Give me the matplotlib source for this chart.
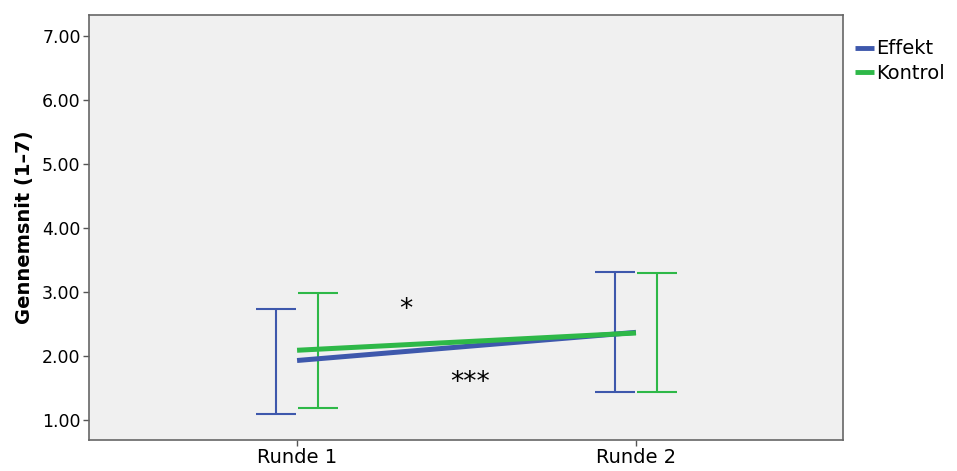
import matplotlib
matplotlib.use("Agg")
import matplotlib.pyplot as plt
import numpy as np

# Data
rounds = ["Runde 1", "Runde 2"]
groups = ["Effekt", "Kontrol"]
effekt_mean = [1.93, 2.37]
kontrol_mean = [2.09, 2.36]
effekt_low = [1.09, 1.43]
effekt_high = [2.74, 3.31]
kontrol_low = [1.19, 1.43]
kontrol_high = [2.98, 3.30]
yticks = [1, 2, 3, 4, 5, 6, 7]

colors = {"Effekt": "#3E58AC", "Kontrol": "#2EB848"}
offsets = {"Effekt": -0.063, "Kontrol": 0.062}
cap_half = 0.059

plt.rcParams["font.family"] = ["DejaVu Sans"]

fig = plt.figure(figsize=(9.57, 4.71), dpi=100)
ax = fig.add_axes([89 / 957, 1 - 440 / 471, (843 - 89) / 957, (440 - 15) / 471])
ax.set_facecolor("#f0f0f0")

x = np.arange(len(rounds))
series = {
    "Effekt": (effekt_mean, effekt_low, effekt_high),
    "Kontrol": (kontrol_mean, kontrol_low, kontrol_high),
}

# Error bars (drawn slightly dodged)
for g in groups:
    mean, low, high = series[g]
    xe = x + offsets[g]
    ax.vlines(xe, low, high, color=colors[g], lw=1.5, zorder=2)
    for xi, lo, hi in zip(xe, low, high):
        ax.hlines([lo, hi], xi - cap_half, xi + cap_half, color=colors[g], lw=1.5, zorder=2)

# Mean lines
for g in groups:
    mean = series[g][0]
    ax.plot(x, mean, color=colors[g], lw=3.6, solid_capstyle="butt", label=g, zorder=3)

# Significance markers
ax.text(0.32, 2.72, "*", fontsize=19, ha="center", va="center")
ax.text(0.51, 1.58, "***", fontsize=19, ha="center", va="center")

ax.set_xlim(-0.614, 1.611)
ax.set_ylim(0.6875, 7.33)
ax.set_xticks(x)
ax.set_xticklabels(rounds, fontsize=14)
ax.set_yticks(yticks)
ax.set_yticklabels([f"{v:.2f}" for v in yticks], fontsize=12.5)
ax.set_ylabel("Gennemsnit (1–7)", fontsize=14, fontweight="bold", labelpad=6)

ax.tick_params(axis="both", direction="out", length=4, width=1, color="#555555", pad=2)
for side in ["left", "bottom", "top", "right"]:
    ax.spines[side].set_color("#666666")
    ax.spines[side].set_linewidth(1.2)

leg = ax.legend(loc="upper left", bbox_to_anchor=(1.0, 0.97), frameon=False,
                fontsize=14, handlelength=1.0, handletextpad=0.1,
                labelspacing=0.3, borderaxespad=0.2)
for line in leg.get_lines():
    line.set_linewidth(3.5)

fig.savefig("out.png", dpi=100, facecolor="white")
